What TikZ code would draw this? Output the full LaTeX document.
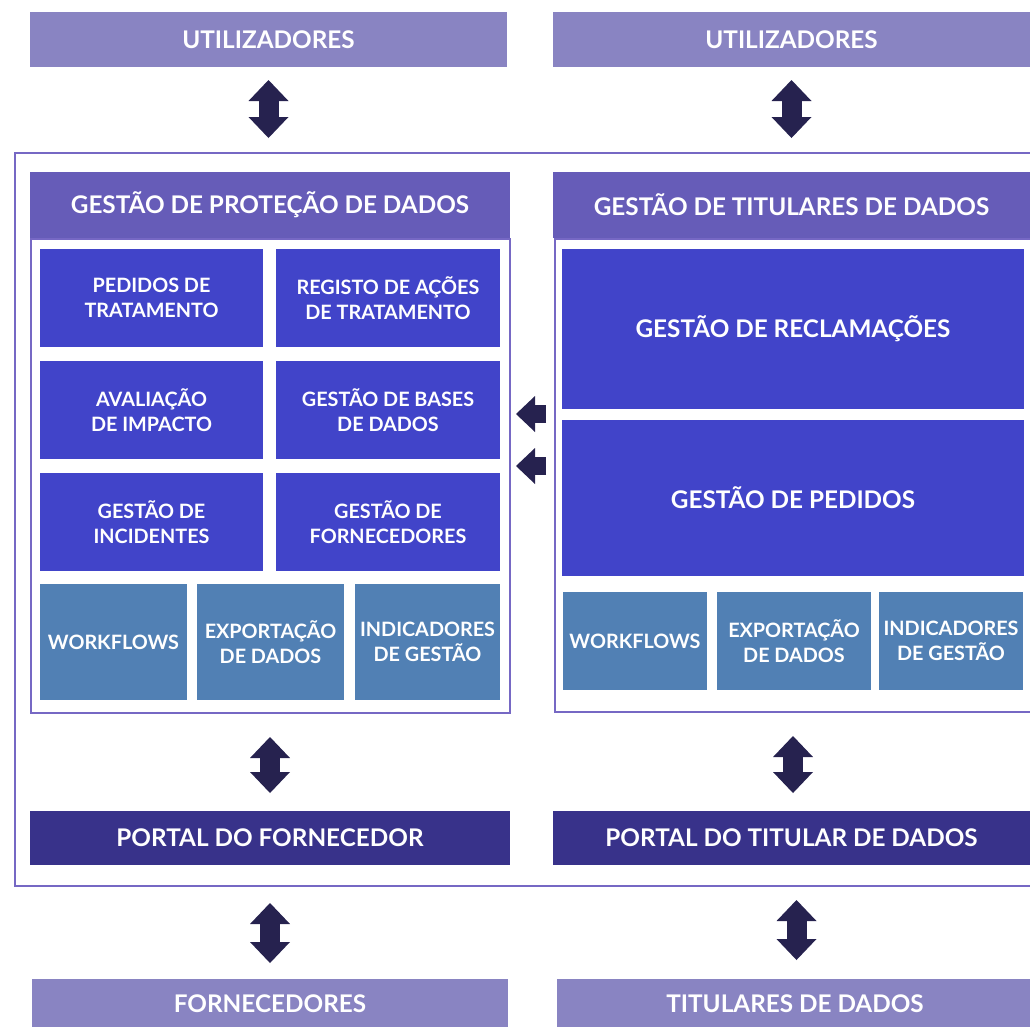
\documentclass[tikz,border=0pt]{standalone}
\usepackage{fontspec}
\setmainfont{Lato}
\usetikzlibrary{arrows.meta}
\definecolor{actorc}{HTML}{8984C2}
\definecolor{hdrc}{HTML}{665CB8}
\definecolor{blockc}{HTML}{4144C9}
\definecolor{toolc}{HTML}{5180B4}
\definecolor{portc}{HTML}{38328A}
\definecolor{arrc}{HTML}{26224F}
\definecolor{framec}{HTML}{7668C4}
\tikzset{
  box/.style={anchor=north west, inner sep=0pt, outer sep=0pt, text=white, align=center},
  big/.style={box, font=\bfseries\fontsize{24.3}{28}\selectfont},
  small/.style={box, font=\bfseries\fontsize{19.8}{25.5}\selectfont},
  actor/.style={big, fill=actorc, minimum height=55pt},
  header/.style={big, fill=hdrc, minimum height=66pt},
  portal/.style={big, fill=portc, minimum height=54pt},
  block/.style={small, fill=blockc},
  tool/.style={small, fill=toolc},
  panel/.style={anchor=north west, inner sep=0pt, draw=framec, line width=2pt},
  dbl/.style={draw=arrc, line width=20pt,
    {Triangle[length=21pt,width=40pt,line width=0pt]}-{Triangle[length=21pt,width=40pt,line width=0pt]}},
  back/.style={draw=arrc, line width=18pt, -{Triangle[length=19pt,width=36pt,line width=0pt]}}
}
\begin{document}
\begin{tikzpicture}[x=1pt, y=-1pt]
  \useasboundingbox (0,0) rectangle (1030,1026);
  %outer frame
  \draw[framec, line width=2pt] (15,153) rectangle (1045,886);
  %users
  \node[actor, minimum width=477pt] at (30,12) (utilL) {UTILIZADORES};
  \node[actor, minimum width=477pt] at (553,12) (utilR) {UTILIZADORES};
  %panels
  \node[panel, minimum width=479pt, minimum height=474pt] at (30,238) (pnlL) {};
  \node[panel, minimum width=495pt, minimum height=473pt] at (554,238) (pnlR) {};
  \node[header, minimum width=480pt] at (30,172) (hdrL) {GESTÃO DE PROTEÇÃO DE DADOS};
  \node[header, minimum width=477pt] at (553,172) (hdrR) {GESTÃO DE TITULARES DE DADOS};
  %left blocks
  \node[block, minimum width=223pt, minimum height=98pt] at (40,249) (pedT) {PEDIDOS DE\\TRATAMENTO};
  \node[block, minimum width=224pt, minimum height=98pt] at (276,249) (regA) {REGISTO DE AÇÕES\\DE TRATAMENTO};
  \node[block, minimum width=223pt, minimum height=98pt] at (40,361) (avalI) {AVALIAÇÃO\\DE IMPACTO};
  \node[block, minimum width=224pt, minimum height=98pt] at (276,361) (gesB) {GESTÃO DE BASES\\DE DADOS};
  \node[block, minimum width=223pt, minimum height=98pt] at (40,473) (gesI) {GESTÃO DE\\INCIDENTES};
  \node[block, minimum width=224pt, minimum height=98pt] at (276,473) (gesF) {GESTÃO DE\\FORNECEDORES};
  \node[tool, minimum width=147pt, minimum height=116pt] at (40,584) (wfL) {WORKFLOWS};
  \node[tool, minimum width=147pt, minimum height=116pt] at (197,584) (expL) {EXPORTAÇÃO\\DE DADOS};
  \node[tool, minimum width=145pt, minimum height=116pt] at (355,584) (indL) {INDICADORES\\DE GESTÃO};
  %right blocks
  \node[block, font=\bfseries\fontsize{24.3}{28}\selectfont, minimum width=462pt, minimum height=160pt] at (562,249) (recl) {GESTÃO DE RECLAMAÇÕES};
  \node[block, font=\bfseries\fontsize{24.3}{28}\selectfont, minimum width=462pt, minimum height=156pt] at (562,420) (ped) {GESTÃO DE PEDIDOS};
  \node[tool, minimum width=144pt, minimum height=98pt] at (563,592) (wfR) {WORKFLOWS};
  \node[tool, minimum width=154pt, minimum height=98pt] at (717,592) (expR) {EXPORTAÇÃO\\DE DADOS};
  \node[tool, minimum width=144pt, minimum height=98pt] at (879,592) (indR) {INDICADORES\\DE GESTÃO};
  %portals
  \node[portal, minimum width=480pt] at (30,811) (portL) {PORTAL DO FORNECEDOR};
  \node[portal, minimum width=477pt] at (553,811) (portR) {PORTAL DO TITULAR DE DADOS};
  %outside
  \node[actor, minimum width=476pt, minimum height=50pt] at (32,979) (forn) {FORNECEDORES};
  \node[actor, minimum width=476pt, minimum height=50pt] at (557,979) (tit) {TITULARES DE DADOS};
  %arrows
  \draw[dbl, shorten <=13pt, shorten >=34pt] (utilL.south) -- (utilL.south |- hdrL.north);
  \draw[dbl, shorten <=13pt, shorten >=34pt] (utilR.south) -- (utilR.south |- hdrR.north);
  \draw[dbl, shorten <=23pt, shorten >=18pt] (portL.north |- pnlL.south) -- (portL.north);
  \draw[dbl, shorten <=23pt, shorten >=18pt] ([xshift=1.5pt]portR.north |- pnlR.south) -- ([xshift=1.5pt]portR.north);
  \draw[dbl, shorten <=38pt, shorten >=16pt] (portL.south) -- (portL.south |- forn.north);
  \draw[dbl, shorten <=35pt, shorten >=19pt] ([xshift=5pt]portR.south) -- ([xshift=5pt]portR.south |- tit.north);
  \draw[back, shorten <=8pt, shorten >=5pt] ([yshift=61.5pt]pnlR.west) -- ([yshift=61.5pt]pnlR.west -| pnlL.east);
  \draw[back, shorten <=8pt, shorten >=5pt] ([yshift=9.5pt]pnlR.west) -- ([yshift=9.5pt]pnlR.west -| pnlL.east);
\end{tikzpicture}
\end{document}
